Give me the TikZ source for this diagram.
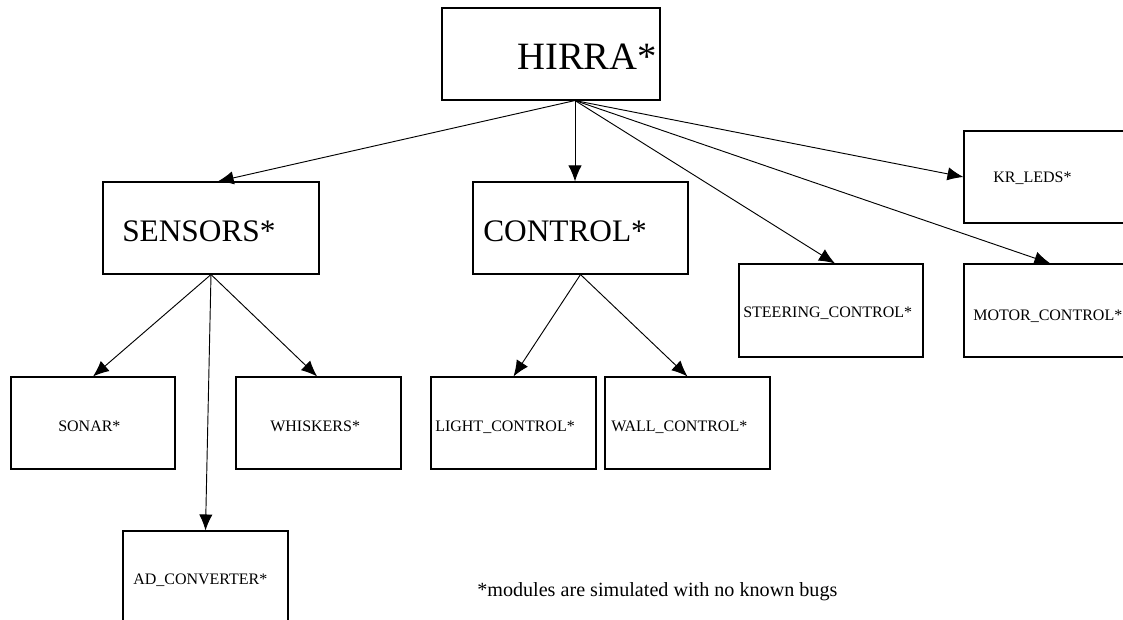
\documentclass[tikz,border=0pt]{standalone}
\usepackage{fontspec}
\setmainfont{Liberation Serif}
\usetikzlibrary{arrows.meta}

\begin{document}
\begin{tikzpicture}[x=0.75pt, y=-0.75pt, >={Latex[length=12pt,width=10pt]},
    box/.style={draw, line width=0.8pt, rectangle, inner sep=0pt},
    modtext/.style={inner sep=0pt, anchor=base west},
    link/.style={->, line width=0.7pt}]
    % page size and clipping
    \useasboundingbox (0,0) rectangle (1123,620);
    \clip (0,0) rectangle (1123,620);

    % draw boxes
    \node[box, minimum width=163.5pt, minimum height=69pt] (hirra) at (551,54) {};
    \node[box, minimum width=162pt, minimum height=69pt] (sensors) at (211,228) {};
    \node[box, minimum width=161.25pt, minimum height=69pt] (control) at (580.5,228) {};
    \node[box, minimum width=138pt, minimum height=69.75pt] (steering) at (831,310.5) {};
    \node[box, minimum width=127.5pt, minimum height=69pt] (kr) at (1049,177) {};
    \node[box, minimum width=127.5pt, minimum height=69.75pt] (motor) at (1049,310.5) {};
    \node[box, minimum width=123pt, minimum height=69pt] (sonar) at (93,423) {};
    \node[box, minimum width=123.75pt, minimum height=69pt] (whiskers) at (318.5,423) {};
    \node[box, minimum width=123.75pt, minimum height=69pt] (light) at (513.5,423) {};
    \node[box, minimum width=123.75pt, minimum height=69pt] (wall) at (687.5,423) {};
    \node[box, minimum width=123.75pt, minimum height=69pt] (adc) at (205.5,577) {};

    % box texts
    \node[modtext, font=\fontsize{29}{32}\selectfont] (hirraT) at (517,70) {HIRRA*};
    \node[modtext, font=\fontsize{23.5}{26}\selectfont] (sensorsT) at (122,241) {SENSORS*};
    \node[modtext, font=\fontsize{23.5}{26}\selectfont] (controlT) at (483,242) {CONTROL*};
    \node[modtext, font=\fontsize{12}{14}\selectfont] (steeringT) at (743,317) {STEERING\_CONTROL*};
    \node[modtext, font=\fontsize{12}{14}\selectfont] (krT) at (993,183) {KR\_LEDS*};
    \node[modtext, font=\fontsize{12}{14}\selectfont] (motorT) at (973,320) {MOTOR\_CONTROL*};
    \node[modtext, font=\fontsize{12}{14}\selectfont] (sonarT) at (58,431) {SONAR*};
    \node[modtext, font=\fontsize{12}{14}\selectfont] (whiskersT) at (270,431) {WHISKERS*};
    \node[modtext, font=\fontsize{12}{14}\selectfont] (lightT) at (435,431) {LIGHT\_CONTROL*};
    \node[modtext, font=\fontsize{12}{14}\selectfont] (wallT) at (611,431) {WALL\_CONTROL*};
    \node[modtext, font=\fontsize{12}{14}\selectfont] (adcT) at (133,584) {AD\_CONVERTER*};

    % footnote
    \node[modtext, font=\fontsize{15.1}{18}\selectfont] (note) at (477,596) {*modules are simulated with no known bugs};

    % draw links
    \coordinate (hub) at ([xshift=18pt]hirra.south);
    \draw[link] (hub) -- ([xshift=5pt]sensors.north);
    \draw[link] (hub) -- (hub |- control.north);
    \draw[link] (hub) -- (kr.west);
    \draw[link] (hub) -- ([xshift=3pt]steering.north);
    \draw[link] (hub) -- ([xshift=1pt]motor.north);
    \draw[link] (sensors.south) -- (sonar.north);
    \draw[link] (sensors.south) -- ([xshift=-1pt]whiskers.north);
    \draw[link] (sensors.south) -- (adc.north);
    \draw[link] (control.south) -- (light.north);
    \draw[link] (control.south) -- (wall.north);
\end{tikzpicture}
\end{document}
